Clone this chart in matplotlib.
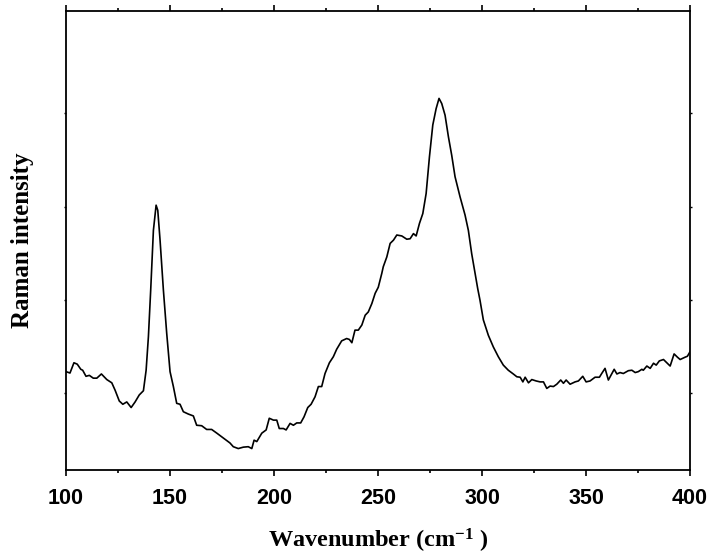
import matplotlib
matplotlib.use('Agg')
import matplotlib.pyplot as plt
from matplotlib.ticker import MultipleLocator

plt.rcParams['mathtext.default'] = 'regular'

# Raman spectrum (intensity in arbitrary units)
wavenumber = [
    100.0, 101.9, 103.8, 105.4, 107.1, 108.0, 109.6, 111.2, 113.1, 114.8,
    117.0, 119.6, 122.0, 123.6, 125.6, 127.3, 129.2, 131.3, 133.2, 135.2,
    137.2, 138.5, 139.6, 140.7, 142.0, 143.3, 144.1, 145.2, 146.8, 148.4,
    150.0, 151.6, 153.2, 154.8, 156.4, 158.8, 161.2, 162.8, 165.2, 167.6,
    170.0, 172.5, 174.9, 177.3, 178.8, 180.4, 182.8, 185.2, 187.6, 189.3,
    190.4, 191.7, 194.1, 196.2, 197.7, 199.7, 201.3, 202.5, 204.5, 205.8,
    207.7, 209.3, 210.9, 212.8, 214.4, 216.2, 217.8, 219.7, 221.3, 222.9,
    224.5, 226.6, 228.5, 230.1, 232.5, 234.9, 236.2, 237.4, 238.9, 240.5,
    242.2, 243.8, 245.3, 247.0, 248.6, 250.1, 251.8, 252.5, 254.2, 255.8,
    257.4, 259.0, 261.4, 263.8, 265.4, 267.0, 268.3, 269.9, 271.5, 273.1,
    274.7, 276.3, 277.9, 279.3, 280.6, 282.2, 283.8, 285.4, 287.0, 289.4,
    291.8, 293.4, 295.0, 296.6, 297.9, 299.0, 300.6, 303.0, 305.4, 307.8,
    310.2, 312.6, 315.0, 316.7, 318.3, 319.6, 320.7, 322.3, 323.9, 326.0,
    327.9, 329.5, 331.1, 332.7, 334.3, 335.9, 337.8, 339.1, 340.4, 342.3,
    344.7, 346.3, 348.4, 350.0, 351.9, 354.3, 356.4, 357.5, 359.1, 360.7,
    362.4, 363.5, 364.8, 366.3, 367.9, 370.3, 372.0, 373.6, 375.1, 376.8,
    377.5, 379.2, 380.8, 382.4, 383.7, 385.2, 387.2, 388.8, 390.4, 392.3,
    393.9, 395.2, 397.6, 398.7, 400.0,
]
intensity = [
    246, 243, 265, 262, 251, 249, 236, 238, 232, 232,
    241, 229, 222, 206, 183, 176, 181, 169, 181, 196,
    205, 249, 321, 421, 549, 603, 592, 528, 421, 328,
    246, 214, 178, 176, 160, 155, 151, 131, 130, 122,
    122, 114, 106, 98, 93, 85, 81, 84, 85, 81,
    99, 96, 114, 121, 146, 142, 142, 124, 124, 121,
    135, 131, 136, 136, 149, 169, 176, 192, 214, 214,
    242, 265, 278, 294, 312, 317, 315, 308, 335, 335,
    346, 367, 374, 392, 414, 427, 457, 471, 492, 521,
    528, 539, 537, 530, 531, 542, 537, 564, 585, 628,
    707, 775, 810, 832, 821, 796, 750, 710, 664, 621,
    582, 549, 499, 457, 424, 399, 357, 324, 299, 278,
    260, 249, 241, 235, 234, 224, 234, 222, 229, 226,
    224, 224, 210, 215, 214, 219, 228, 221, 228, 219,
    224, 226, 236, 224, 226, 234, 234, 242, 253, 228,
    242, 251, 241, 244, 242, 248, 249, 244, 246, 251,
    249, 258, 253, 264, 260, 269, 272, 265, 258, 284,
    277, 272, 277, 279, 289,
]

x_ticks = [100, 150, 200, 250, 300, 350, 400]
y_ticks = [200, 400, 600, 800]

fig = plt.figure(figsize=(7.1, 5.54), dpi=100)
ax = fig.add_axes([0.093, 0.1516, 0.879, 0.829])

ax.plot(wavenumber, intensity, color='black', linewidth=1.2)

ax.set_xlim(100, 400)
ax.set_ylim(35, 1020)
ax.set_xticks(x_ticks)
ax.xaxis.set_minor_locator(MultipleLocator(25))
ax.set_yticks(y_ticks)
ax.set_yticklabels([])

for side in ['left', 'right', 'top', 'bottom']:
    ax.spines[side].set_linewidth(1.3)

ax.tick_params(axis='x', which='major', direction='out', length=4, width=1.2,
               pad=9)
ax.tick_params(axis='x', which='minor', direction='out', length=2.5, width=1.2)
ax.tick_params(axis='x', which='both', top=True)
ax.tick_params(axis='y', which='major', direction='out', length=1.5, width=1.0,
               left=True, right=True)

for lbl in ax.get_xticklabels():
    lbl.set_fontfamily('Liberation Sans')
    lbl.set_fontweight('bold')
    lbl.set_fontsize(15.5)

ax.set_xlabel(r'Wavenumber (cm$^{-1}$ )', fontfamily='Liberation Serif',
              fontweight='bold', fontsize=17.5, labelpad=13)
ax.set_ylabel('Raman intensity', fontfamily='Liberation Serif',
              fontweight='bold', fontsize=18, labelpad=18)

fig.savefig('out.png', dpi=100)
